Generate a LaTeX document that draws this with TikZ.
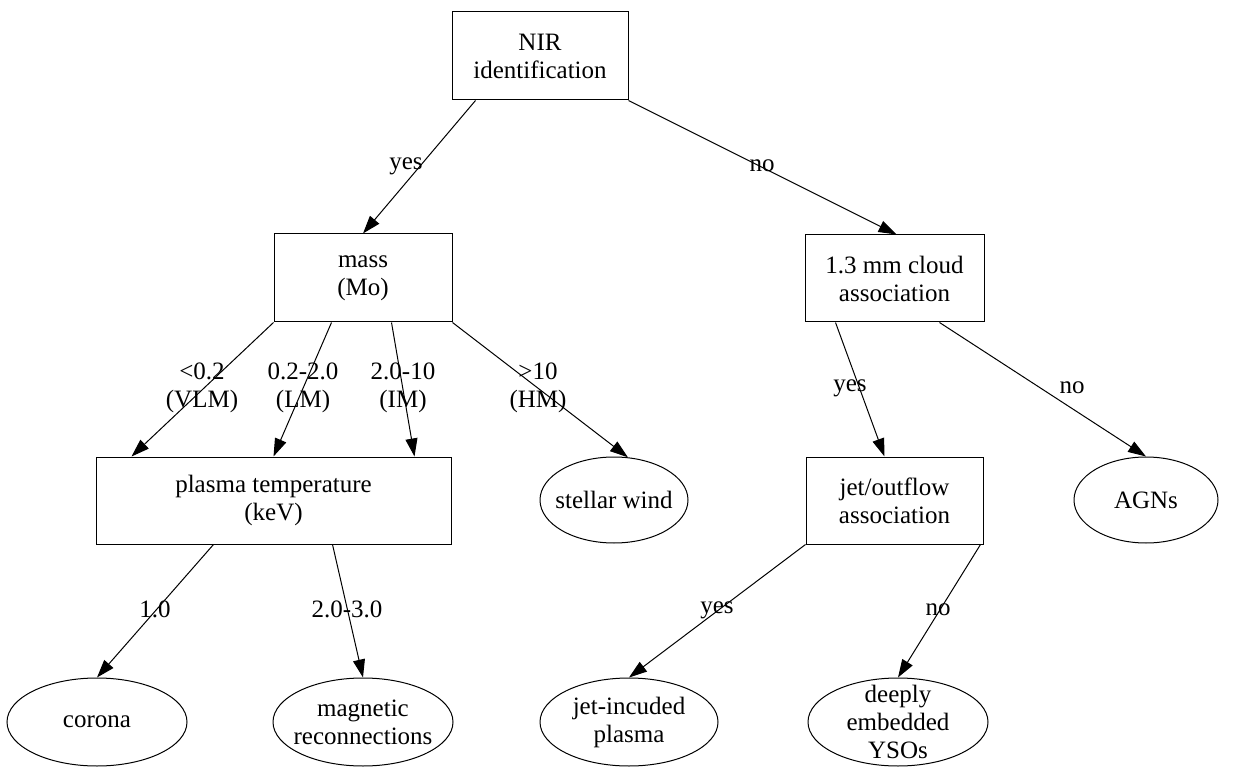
\documentclass[tikz,border=0pt]{standalone}
\usepackage{fontspec}
\setmainfont{Liberation Serif}
\usetikzlibrary{arrows.meta,shapes.geometric}
\begin{document}
\begin{tikzpicture}[x=1pt,y=-1pt,
  every node/.style={font=\fontsize{25}{28}\selectfont, align=center, inner sep=0pt},
  box/.style={draw, line width=1pt, rectangle},
  oval/.style={draw, line width=1pt, ellipse, inner xsep=-40pt, inner ysep=-25pt},
  arr/.style={line width=1pt, -{Triangle[length=18pt,width=12pt]}},
  lbl/.style={}
]
\useasboundingbox (0,0) rectangle (1253,767);

% decision nodes
\node[box, minimum width=176, minimum height=88] (nir) at (540,56) {NIR\\identification};
\node[box, minimum width=178, minimum height=88] (mass) at (363,278) {mass\\(Mo)};
\node[box, minimum width=179, minimum height=87] (cloud) at (894.5,278.5) {1.3 mm cloud\\association};
\node[box, minimum width=355, minimum height=87] (plasma) at (273.5,500.5) {plasma temperature\\(keV)};
\node[box, minimum width=177, minimum height=87] (jet) at (894.5,500.5) {jet/outflow\\association};

% outcomes
\node[oval, minimum width=148, minimum height=86] (wind) at (614,500) {stellar wind};
\node[oval, minimum width=144, minimum height=86] (agn) at (1146,500) {AGNs};
\node[oval, minimum width=180, minimum height=88] (corona) at (97,722) {corona};
\node[oval, minimum width=180, minimum height=88] (magn) at (363,722) {magnetic\\reconnections};
\node[oval, minimum width=178, minimum height=88] (jetpl) at (629,722) {jet-incuded\\plasma};
\node[oval, minimum width=180, minimum height=88] (deep) at (898,722) {deeply\\embedded\\YSOs};

% connectors
\draw[arr] ([xshift=24]nir.south west) -- (mass.north);
\draw[arr] (nir.south east) -- ([xshift=2]cloud.north);

\draw[arr] (mass.south west) -- ([xshift=36]plasma.north west);
\draw[arr] ([xshift=58]mass.south west) -- ([xshift=178]plasma.north west);
\draw[arr] ([xshift=118]mass.south west) -- ([xshift=319]plasma.north west);
\draw[arr] (mass.south east) -- (wind.72);

\draw[arr] ([xshift=31]cloud.south west) -- ([xshift=79]jet.north west);
\draw[arr] ([xshift=135]cloud.south west) -- (agn.north);

\draw[arr] ([xshift=118]plasma.south west) -- (corona.north);
\draw[arr] ([xshift=237]plasma.south west) -- (magn.north);

\draw[arr] (jet.south west) -- (jetpl.north);
\draw[arr] ([xshift=-3]jet.south east) -- (deep.north);

% edge labels
\node[lbl] (lyes1) at (406,166) {yes};
\node[lbl] (lno1) at (762,166) {no};
\node[lbl] (lvlm) at (202,388) {<0.2\\(VLM)};
\node[lbl] (llm) at (303,388) {0.2-2.0\\(LM)};
\node[lbl] (lim) at (403,388) {2.0-10\\(IM)};
\node[lbl] (lhm) at (538,388) {>10\\(HM)};
\node[lbl] (lyes2) at (850,388) {yes};
\node[lbl] (lno2) at (1072,388) {no};
\node[lbl] (l10) at (155,609) {1.0};
\node[lbl] (l23) at (347,609) {2.0-3.0};
\node[lbl] (lyes3) at (717,610) {yes};
\node[lbl] (lno3) at (938,610) {no};
\end{tikzpicture}
\end{document}
